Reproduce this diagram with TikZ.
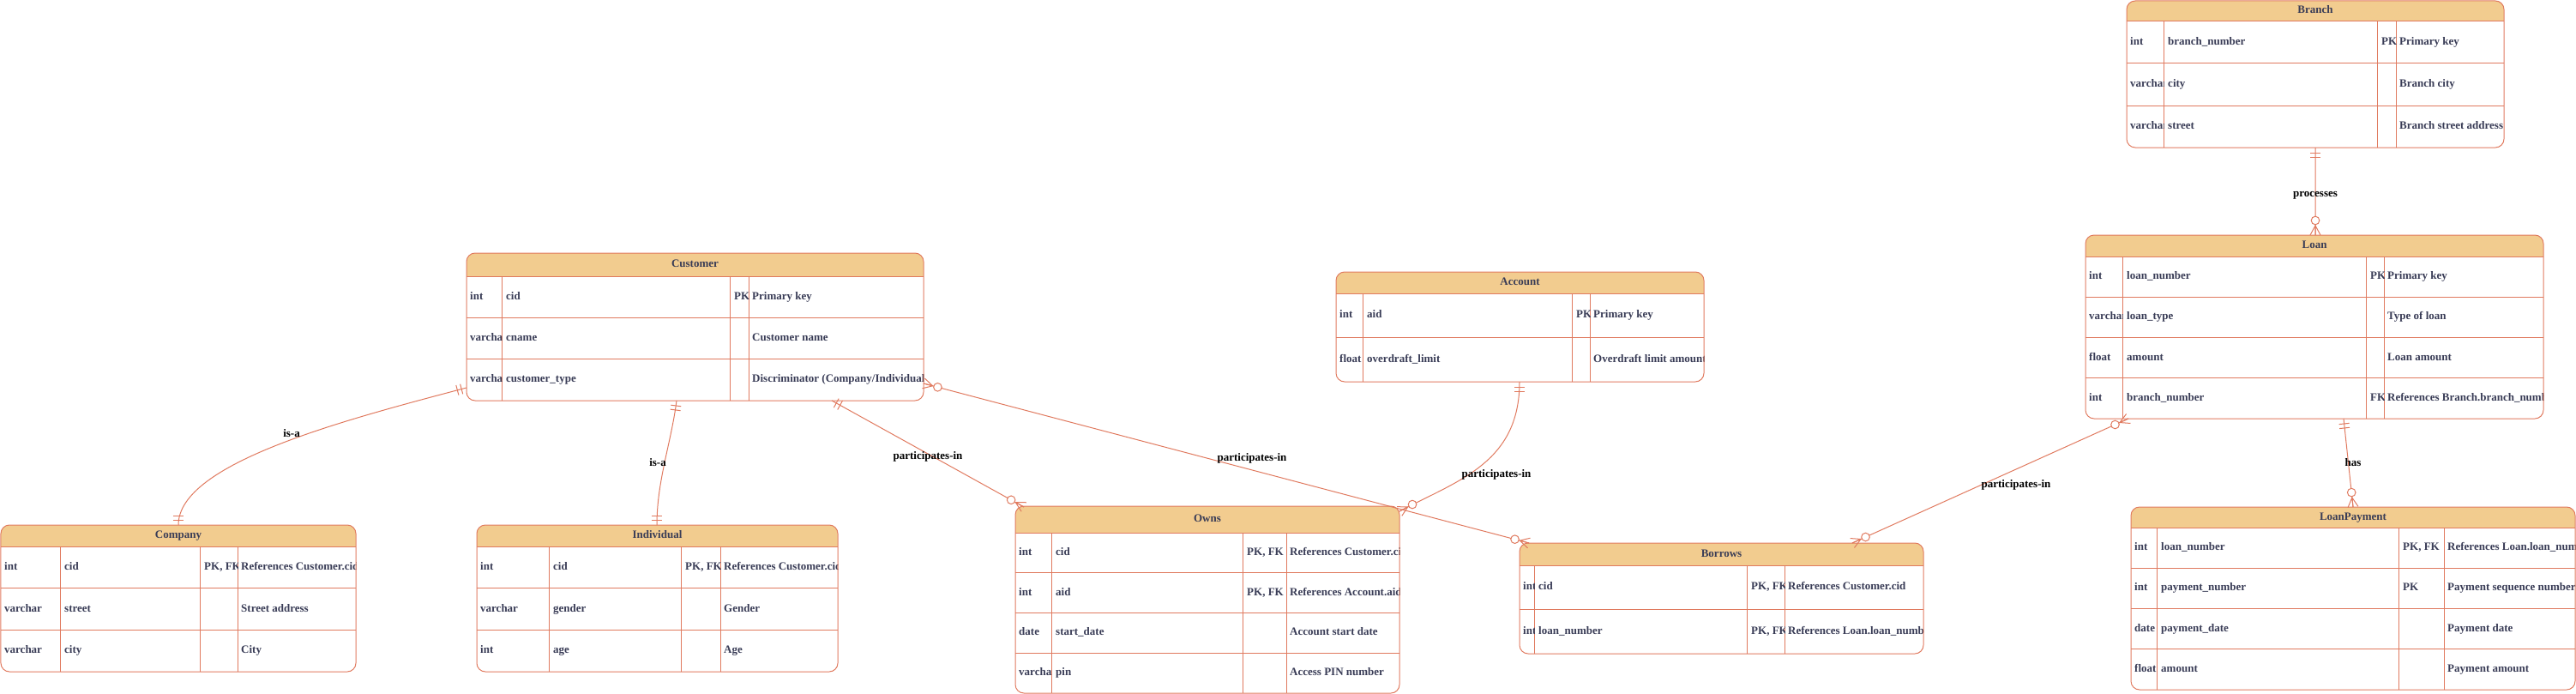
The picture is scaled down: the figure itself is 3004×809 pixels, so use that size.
\documentclass[tikz,border=0pt]{standalone}
\usepackage{fontspec}
\setmainfont{Liberation Serif}
\usetikzlibrary{calc}
\definecolor{erstroke}{HTML}{E07A5F}
\definecolor{erfill}{HTML}{F2CC8F}
\definecolor{erfont}{HTML}{393C56}
\tikzset{
  tablebox/.style={draw=erstroke, line width=1bp, rounded corners=10bp, inner sep=0pt, outer sep=0pt},
  gridline/.style={draw=erstroke, line width=1bp},
  celltext/.style={anchor=west, inner sep=0pt, text height=9bp, text depth=3bp, text=erfont, font=\bfseries\fontsize{13bp}{15bp}\selectfont},
  hdrtext/.style={inner sep=0pt, text height=9bp, text depth=3bp, text=erfont, font=\bfseries\fontsize{13bp}{15bp}\selectfont},
  conn/.style={draw=erstroke, line width=1bp},
  rellabel/.style={inner sep=0pt, text height=9bp, text depth=3bp, text=black, font=\bfseries\fontsize{13bp}{15bp}\selectfont},
}
\def\erdims#1/#2/#3/#4/#5/#6/#7/#8/#9\relax{\def\tL{#1}\def\tT{#2}\def\tR{#3}\def\tB{#4}\def\tH{#5}\def\cA{#6}\def\cB{#7}\def\cC{#8}\def\tN{#9}}
\newcommand\ertable[4]{%
  \erdims#2\relax
  \pgfmathsetmacro\rh{(\tB-\tH)/\tN}
  \pgfmathtruncatemacro\tM{\tN-1}
  \pgfmathsetmacro\tw{\tR-\tL}
  \pgfmathsetmacro\th{\tB-\tT}
  \begin{scope}
    \clip[rounded corners=10bp] (\tL,\tT) rectangle (\tR,\tB);
    \fill[erfill] (\tL,\tT) rectangle (\tR,\tH);
  \end{scope}
  \draw[gridline] (\tL,\tH) -- (\tR,\tH);
  \foreach \k in {1,...,\tM} {\draw[gridline] (\tL,{\tH+\k*\rh}) -- (\tR,{\tH+\k*\rh});}
  \draw[gridline] (\cA,\tH) -- (\cA,\tB) (\cB,\tH) -- (\cB,\tB) (\cC,\tH) -- (\cC,\tB);
  \node[hdrtext] (#1-title) at ({(\tL+\tR)/2},{(\tT+\tH)/2}) {#3};
  \foreach \fa/\fb/\fc/\fd [count=\i] in {#4} {
    \pgfmathsetmacro\ya{\tH+(\i-1)*\rh}
    \pgfmathsetmacro\yb{\tH+\i*\rh}
    \pgfmathsetmacro\ym{(\ya+\yb)/2}
    \begin{scope}\clip (\tL,\ya) rectangle (\cA,\yb);
      \node[celltext] (#1-\i-a) at ({\tL+4},\ym) {\fa};\end{scope}
    \begin{scope}\clip (\cA,\ya) rectangle (\cB,\yb);
      \node[celltext] (#1-\i-b) at ({\cA+5},\ym) {\fb};\end{scope}
    \begin{scope}\clip (\cB,\ya) rectangle (\cC,\yb);
      \node[celltext] (#1-\i-c) at ({\cB+5},\ym) {\fc};\end{scope}
    \begin{scope}\clip (\cC,\ya) rectangle (\tR,\yb);
      \node[celltext] (#1-\i-d) at ({\cC+4},\ym) {\fd};\end{scope}
  }
  \node[tablebox, minimum width=\tw bp, minimum height=\th bp] (#1) at ({(\tL+\tR)/2},{(\tT+\tB)/2}) {};
}
% one-and-only-one marker: #1 end on entity, #2 point along the line
\newcommand\markone[2]{%
  \path ($(#1)!6bp!(#2)$) coordinate (mA) ($(#1)!11bp!(#2)$) coordinate (mB);
  \draw[conn] ($(mA)!6bp!90:(#2)$) -- ($(mA)!6bp!-90:(#2)$);
  \draw[conn] ($(mB)!6bp!90:(#2)$) -- ($(mB)!6bp!-90:(#2)$);
}
% zero-or-many marker
\newcommand\markmany[2]{%
  \path ($(#1)!11bp!(#2)$) coordinate (mA) ($(#1)!17bp!(#2)$) coordinate (mC)
        ($(#1)!6bp!90:(#2)$) coordinate (mL) ($(#1)!6bp!-90:(#2)$) coordinate (mR);
  \draw[conn] (mL) -- (mA) -- (mR) (mA) -- (#1);
  \draw[conn, fill=white] (mC) circle[radius=4.8bp];
}
\begin{document}
\begin{tikzpicture}[x=1bp,y=-1bp]
\useasboundingbox (0,0) rectangle (3004,809);

\ertable{customer}{544/295/1077/467/322/585/851/873/3}{Customer}{
 {int}/{cid}/{PK}/{Primary key},
 {varchar}/{cname}/{}/{Customer name},
 {varchar}/{customer\_type}/{}/{Discriminator (Company/Individual)}}

\ertable{company}{1/612/415/783/637/70/233/277/3}{Company}{
 {int}/{cid}/{PK, FK}/{References Customer.cid},
 {varchar}/{street}/{}/{Street address},
 {varchar}/{city}/{}/{City}}

\ertable{individual}{556/612/977/783/637/640/794/840/3}{Individual}{
 {int}/{cid}/{PK, FK}/{References Customer.cid},
 {varchar}/{gender}/{}/{Gender},
 {int}/{age}/{}/{Age}}

\ertable{owns}{1184/590/1632/808/621/1226/1449/1500/4}{Owns}{
 {int}/{cid}/{PK, FK}/{References Customer.cid},
 {int}/{aid}/{PK, FK}/{References Account.aid},
 {date}/{start\_date}/{}/{Account start date},
 {varchar}/{pin}/{}/{Access PIN number}}

\ertable{account}{1558/317/1987/445/342/1589/1833/1854/2}{Account}{
 {int}/{aid}/{PK}/{Primary key},
 {float}/{overdraft\_limit}/{}/{Overdraft limit amount}}

\ertable{borrows}{1772/633/2243/762/659/1789/2037/2081/2}{Borrows}{
 {int}/{cid}/{PK, FK}/{References Customer.cid},
 {int}/{loan\_number}/{PK, FK}/{References Loan.loan\_number}}

\ertable{branch}{2480/1/2920/172/25/2523/2772/2794/3}{Branch}{
 {int}/{branch\_number}/{PK}/{Primary key},
 {varchar}/{city}/{}/{Branch city},
 {varchar}/{street}/{}/{Branch street address}}

\ertable{loan}{2432/274/2966/488/299/2475/2759/2780/4}{Loan}{
 {int}/{loan\_number}/{PK}/{Primary key},
 {varchar}/{loan\_type}/{}/{Type of loan},
 {float}/{amount}/{}/{Loan amount},
 {int}/{branch\_number}/{FK}/{References Branch.branch\_number}}

\ertable{loanpayment}{2485/591/3003/804/615/2515/2797/2850/4}{LoanPayment}{
 {int}/{loan\_number}/{PK, FK}/{References Loan.loan\_number},
 {int}/{payment\_number}/{PK}/{Payment sequence number},
 {date}/{payment\_date}/{}/{Payment date},
 {float}/{amount}/{}/{Payment amount}}

% ---- connectors ----
% Customer -- Company (is-a)
\coordinate (c1a) at ($(customer.south west)+(0,-15)$);
\coordinate (c1b) at ($(company.north west)+(207,0)$);
\coordinate (c1p) at ($(c1a)+(-144,38)$);
\coordinate (c1q) at ($(c1b)+(0,-72)$);
\draw[conn] (c1a) .. controls (c1p) and (c1q) .. (c1b);
\markone{c1a}{c1p}\markone{c1b}{c1q}
\node[rellabel] (l1) at (340,506) {is-a};

% Customer -- Individual (is-a)
\coordinate (c2a) at ($(customer.south west)+(245,0)$);
\coordinate (c2b) at ($(individual.north west)+(210,0)$);
\coordinate (c2p) at ($(c2a)+(-6,48)$);
\coordinate (c2q) at ($(c2b)+(0,-52)$);
\draw[conn] (c2a) .. controls (c2p) and (c2q) .. (c2b);
\markone{c2a}{c2p}\markone{c2b}{c2q}
\node[rellabel] (l2) at (767,540) {is-a};

% Customer -- Owns
\coordinate (c3a) at ($(customer.south west)+(426,0)$);
\coordinate (c3b) at ($(owns.north west)+(10,1)$);
\draw[conn] (c3a) -- (c3b);
\markone{c3a}{c3b}\markmany{c3b}{c3a}
\node[rellabel] (l3) at (1082,532) {participates-in};

% Customer -- Borrows
\coordinate (c4a) at ($(customer.south east)+(0,-20)$);
\coordinate (c4b) at ($(borrows.north west)+(11,0)$);
\draw[conn] (c4a) -- (c4b);
\markmany{c4a}{c4b}\markmany{c4b}{c4a}
\node[rellabel] (l4) at (1460,534) {participates-in};

% Account -- Owns
\coordinate (c5a) at ($(account.south west)+(214,0)$);
\coordinate (c5b) at ($(owns.north east)+(0,6)$);
\coordinate (c5p) at ($(c5a)+(0,95)$);
\coordinate (c5q) at ($(c5b)+(68,-36)$);
\draw[conn] (c5a) .. controls (c5p) and (c5q) .. (c5b);
\markone{c5a}{c5p}\markmany{c5b}{c5q}
\node[rellabel] (l5) at (1745,553) {participates-in};

% Loan -- Borrows
\coordinate (c6a) at ($(loan.south west)+(50,0)$);
\coordinate (c6b) at ($(borrows.north west)+(388,0)$);
\draw[conn] (c6a) -- (c6b);
\markmany{c6a}{c6b}\markmany{c6b}{c6a}
\node[rellabel] (l6) at (2351,565) {participates-in};

% Loan -- LoanPayment
\coordinate (c7a) at ($(loan.south west)+(301,0)$);
\coordinate (c7b) at ($(loanpayment.north west)+(259,0)$);
\draw[conn] (c7a) -- (c7b);
\markone{c7a}{c7b}\markmany{c7b}{c7a}
\node[rellabel] (l7) at (2744,540) {has};

% Branch -- Loan
\coordinate (c8a) at ($(branch.south west)+(220,0)$);
\coordinate (c8b) at ($(loan.north west)+(268,0)$);
\draw[conn] (c8a) -- (c8b);
\markone{c8a}{c8b}\markmany{c8b}{c8a}
\node[rellabel] (l8) at (2700,226) {processes};
\end{tikzpicture}
\end{document}
